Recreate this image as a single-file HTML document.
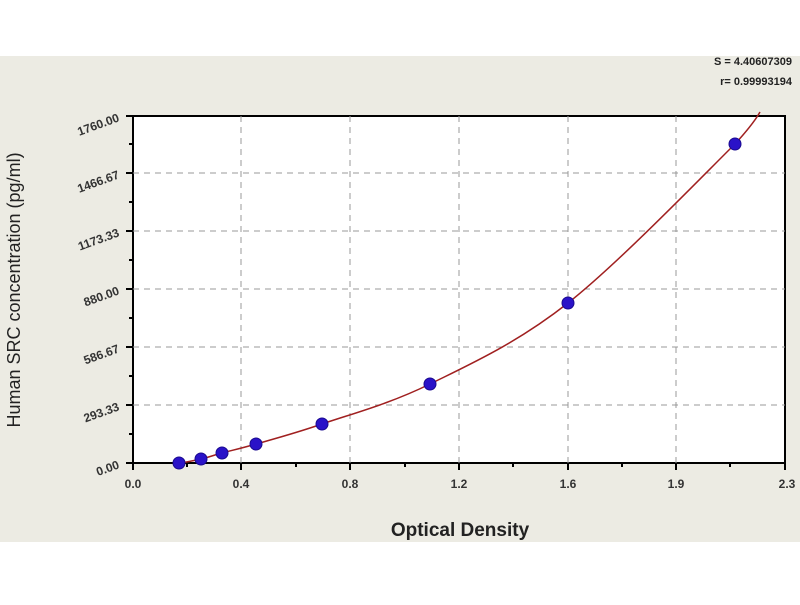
<!DOCTYPE html>
<html><head><style>body{margin:0;background:#fff}</style></head><body>
<svg width="800" height="600" xmlns="http://www.w3.org/2000/svg" font-family="Liberation Sans, sans-serif">
<rect x="0" y="56" width="800" height="486" fill="#ecebe3"/>
<rect x="133" y="116" width="652" height="347" fill="#fff" stroke="#000" stroke-width="2"/>
<g stroke="#999" stroke-dasharray="6,5" stroke-width="1">
<line x1="241" y1="116" x2="241" y2="463"/><line x1="350" y1="116" x2="350" y2="463"/>
<line x1="459" y1="116" x2="459" y2="463"/><line x1="568" y1="116" x2="568" y2="463"/>
<line x1="676" y1="116" x2="676" y2="463"/>
<line x1="133" y1="405" x2="785" y2="405"/><line x1="133" y1="347" x2="785" y2="347"/>
<line x1="133" y1="289" x2="785" y2="289"/><line x1="133" y1="231" x2="785" y2="231"/>
<line x1="133" y1="173" x2="785" y2="173"/>
</g>
<g stroke="#000" stroke-width="2">
<line x1="133" y1="463" x2="133" y2="470"/><line x1="241" y1="463" x2="241" y2="470"/><line x1="350" y1="463" x2="350" y2="470"/><line x1="459" y1="463" x2="459" y2="470"/><line x1="568" y1="463" x2="568" y2="470"/><line x1="676" y1="463" x2="676" y2="470"/><line x1="785" y1="463" x2="785" y2="470"/>
<line x1="187" y1="463" x2="187" y2="467"/><line x1="296" y1="463" x2="296" y2="467"/><line x1="405" y1="463" x2="405" y2="467"/><line x1="513" y1="463" x2="513" y2="467"/><line x1="622" y1="463" x2="622" y2="467"/><line x1="730" y1="463" x2="730" y2="467"/>
<line x1="126" y1="463" x2="133" y2="463"/><line x1="126" y1="405" x2="133" y2="405"/><line x1="126" y1="347" x2="133" y2="347"/><line x1="126" y1="289" x2="133" y2="289"/><line x1="126" y1="231" x2="133" y2="231"/><line x1="126" y1="173" x2="133" y2="173"/><line x1="126" y1="116" x2="133" y2="116"/>
<line x1="129" y1="434" x2="133" y2="434"/><line x1="129" y1="376" x2="133" y2="376"/><line x1="129" y1="318" x2="133" y2="318"/><line x1="129" y1="260" x2="133" y2="260"/><line x1="129" y1="202" x2="133" y2="202"/><line x1="129" y1="144" x2="133" y2="144"/>
</g>
<g font-size="12" font-weight="bold" fill="#333" text-anchor="middle">
<text x="133" y="488">0.0</text><text x="241" y="488">0.4</text><text x="350" y="488">0.8</text><text x="459" y="488">1.2</text><text x="568" y="488">1.6</text><text x="676" y="488">1.9</text><text x="787" y="488">2.3</text>
</g>
<g font-size="12" font-weight="bold" fill="#333" text-anchor="end">
<text transform="translate(120,468) rotate(-20)">0.00</text>
<text transform="translate(120,410) rotate(-20)">293.33</text>
<text transform="translate(120,352) rotate(-20)">586.67</text>
<text transform="translate(120,294) rotate(-20)">880.00</text>
<text transform="translate(120,236) rotate(-20)">1173.33</text>
<text transform="translate(120,178) rotate(-20)">1466.67</text>
<text transform="translate(120,121) rotate(-20)">1760.00</text>
</g>
<text x="460" y="536" font-size="19" font-weight="bold" fill="#222" text-anchor="middle">Optical Density</text>
<text transform="translate(20,290) rotate(-90)" font-size="18" fill="#222" text-anchor="middle">Human SRC concentration (pg/ml)</text>
<text x="792" y="65" font-size="11" font-weight="bold" fill="#222" text-anchor="end">S = 4.40607309</text>
<text x="792" y="85" font-size="11" font-weight="bold" fill="#222" text-anchor="end">r= 0.99993194</text>
<path d="M176,464 C180.2,463.2 193.3,460.8 201,459 C208.7,457.2 212.8,455.5 222,453 C231.2,450.5 239.3,448.8 256,444 C272.7,439.2 293,434 322,424 C351,414 389,404.2 430,384 C471,363.8 517.2,343 568,303 C618.8,263 703,175.5 735,144 C745,133 755,121 760,112" fill="none" stroke="#a02020" stroke-width="1.5"/>
<g fill="#2a12c8" stroke="#1a0a90">
<circle cx="179" cy="463" r="6"/><circle cx="201" cy="459" r="6"/><circle cx="222" cy="453" r="6"/><circle cx="256" cy="444" r="6"/><circle cx="322" cy="424" r="6"/><circle cx="430" cy="384" r="6"/><circle cx="568" cy="303" r="6"/><circle cx="735" cy="144" r="6"/>
</g>
</svg>
</body></html>
